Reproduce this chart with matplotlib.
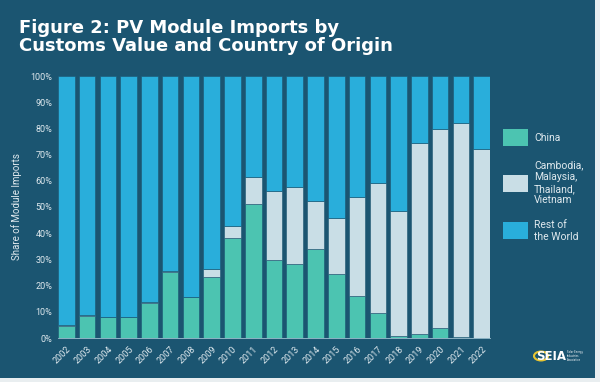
import matplotlib.pyplot as plt
from matplotlib.patches import Rectangle, Circle
import numpy as np

years = [str(y) for y in range(2002, 2023)]
china = [4.6, 8.4, 7.9, 7.9, 13.5, 25.3, 15.6, 23.2, 38.3, 51.0, 29.8,
         28.2, 33.8, 24.4, 16.0, 9.4, 0.8, 1.5, 3.8, 0.3, 0.0]
sea = [0.4, 0.4, 0.2, 0.2, 0.2, 0.2, 0.2, 3.1, 4.4, 10.3, 26.3,
       29.6, 18.6, 21.5, 37.9, 49.9, 47.7, 73.0, 75.8, 81.6, 72.0]
rest = [100 - c - s for c, s in zip(china, sea)]
series_names = ["China", "Cambodia,\nMalaysia,\nThailand,\nVietnam", "Rest of\nthe World"]
yticks = list(range(0, 101, 10))

bg = "#1b5571"
c_china = "#4cc4b1"
c_sea = "#c9dee6"
c_rest = "#29aedb"
txt = "#dfe9ee"

fig = plt.figure(figsize=(6, 3.82), dpi=100, facecolor="#e9eef0")
fig.patches.append(Rectangle((0, 4 / 382), 595 / 600, 378 / 382, transform=fig.transFigure,
                             facecolor=bg, edgecolor="none", zorder=-1))

ax = fig.add_axes([58 / 600, 44 / 382, 432 / 600, 262 / 382])
ax.set_facecolor(bg)
x = np.arange(len(years))
kw = dict(width=0.8, edgecolor=bg, linewidth=0.4)
ax.bar(x, china, color=c_china, **kw)
ax.bar(x, sea, bottom=china, color=c_sea, **kw)
ax.bar(x, rest, bottom=np.add(china, sea), color=c_rest, **kw)

ax.set_xlim(-0.4, len(years) - 0.6)
ax.set_ylim(0, 100)
ax.set_yticks(yticks)
ax.set_yticklabels([f"{v}%" for v in yticks], fontsize=6.5, color=txt, family="Roboto")
ax.set_xticks(x)
ax.set_xticklabels(years, rotation=45, ha="right", va="top", rotation_mode="anchor",
                   fontsize=6.5, color=txt, family="Roboto")
ax.tick_params(length=0, pad=4)
ax.tick_params(axis="x", pad=5)
for s in ["top", "right", "left"]:
    ax.spines[s].set_visible(False)
ax.spines["bottom"].set_color("#9fc3d3")
ax.spines["bottom"].set_linewidth(0.6)
ax.set_ylabel("Share of Module Imports", fontsize=7, color=txt, family="Roboto", labelpad=6)

fig.text(19 / 600, 1 - 19 / 382, "Figure 2: PV Module Imports by\nCustoms Value and Country of Origin",
         color="white", fontsize=13, fontweight="bold", family="DejaVu Sans",
         va="top", ha="left", linespacing=1.0)

# legend
colors = [c_china, c_sea, c_rest]
centers = [137.5, 183, 231]
for name, col, cy in zip(series_names, colors, centers):
    fig.patches.append(Rectangle((503 / 600, 1 - (cy + 8.5) / 382), 25 / 600, 17 / 382,
                                 transform=fig.transFigure, facecolor=col, edgecolor="none"))
    fig.text(534 / 600, 1 - cy / 382, name, color=txt, fontsize=7.5, family="Roboto",
             va="center", ha="left", linespacing=1.2)

# logo
fig.patches.append(Circle((541 / 600, 1 - 356 / 382), 7 / 600, transform=fig.transFigure,
                          facecolor="none", edgecolor="#e8c531", linewidth=1.5))
fig.text(551 / 600, 1 - 356 / 382, "SEIA", color="white", fontsize=8.5, fontweight="bold",
         family="DejaVu Sans", ha="center", va="center")
fig.text(567 / 600, 1 - 356 / 382, "Solar Energy\nIndustries\nAssociation", color="white",
         fontsize=1.8, family="DejaVu Sans", ha="left", va="center", linespacing=1.1)

fig.savefig("out.png", dpi=100, facecolor=fig.get_facecolor())
